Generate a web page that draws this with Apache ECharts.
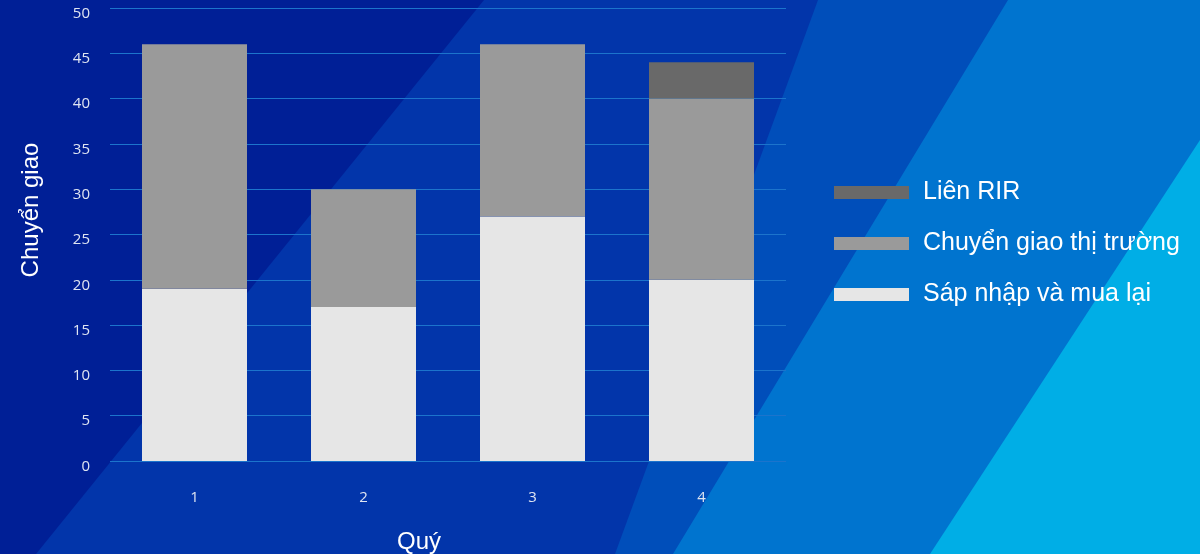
<!DOCTYPE html>
<html>
<head>
<meta charset="utf-8">
<script src="https://cdn.jsdelivr.net/npm/echarts@6/dist/echarts.min.js"></script>
<style>html,body{margin:0;padding:0;background:#0235aa;}#c{width:1200px;height:554px;}</style>
</head>
<body>
<div id="c"></div>
<script>
const categories = ['1', '2', '3', '4'];
const seriesNames = ['Sáp nhập và mua lại', 'Chuyển giao thị trường', 'Liên RIR'];
const mergersValues = [19, 17, 27, 20];
const marketValues = [27, 13, 19, 20];
const interRirValues = [0, 0, 0, 4];
const yTicks = { min: 0, max: 50, interval: 5 };
const xAxisTitle = 'Quý';
const yAxisTitle = 'Chuyển giao';

const chart = echarts.init(document.getElementById('c'), null, { renderer: 'canvas' });
const tickFont = { color: '#dfe5f2', fontSize: 15, fontFamily: 'Open Sans' };
const titleFont = { color: '#ffffff', fontSize: 24, fontFamily: 'Liberation Sans' };

function band(points, color) {
  return { type: 'polygon', silent: true, z: -10, shape: { points: points }, style: { fill: color } };
}

chart.setOption({
  backgroundColor: '#0235aa',
  animation: false,
  graphic: [
    band([[0, 0], [484, 0], [36, 554], [0, 554]], '#001f96'),
    band([[818, 0], [1200, 0], [1200, 554], [615, 554]], '#004eba'),
    band([[1008, 0], [1200, 0], [1200, 554], [673, 554]], '#0074cf'),
    band([[1200, 140], [1200, 554], [930, 554]], '#00aee6')
  ],
  grid: { left: 110, right: 414, top: 8, bottom: 93, outerBoundsMode: 'none', containLabel: false },
  legend: {
    orient: 'vertical',
    left: 829,
    top: 175,
    icon: 'rect',
    itemWidth: 75,
    itemHeight: 13,
    itemGap: 26,
    data: [seriesNames[2], seriesNames[1], seriesNames[0]],
    textStyle: Object.assign({}, titleFont, { fontSize: 25, padding: [0, 0, 0, 9] })
  },
  xAxis: {
    type: 'category',
    data: categories,
    name: xAxisTitle,
    nameLocation: 'middle',
    nameGap: 69,
    nameTextStyle: Object.assign({}, titleFont, { padding: [0, 58, 0, 0] }),
    axisLine: { show: false },
    axisTick: { show: false },
    axisLabel: Object.assign({ margin: 29 }, tickFont)
  },
  yAxis: {
    type: 'value',
    min: yTicks.min,
    max: yTicks.max,
    interval: yTicks.interval,
    name: yAxisTitle,
    nameLocation: 'middle',
    nameGap: 67,
    nameTextStyle: Object.assign({}, titleFont, { padding: [0, 0, 0, 49] }),
    axisLine: { show: false },
    axisTick: { show: false },
    axisLabel: Object.assign({ margin: 20, verticalAlign: 'top', lineHeight: 11 }, tickFont),
    splitLine: { lineStyle: { color: '#1c74cc', width: 1 } }
  },
  series: [
    { name: seriesNames[0], type: 'bar', stack: 's', data: mergersValues, barWidth: 105, itemStyle: { color: '#e6e6e6' } },
    { name: seriesNames[1], type: 'bar', stack: 's', data: marketValues, barWidth: 105, itemStyle: { color: '#9a9a9a' } },
    { name: seriesNames[2], type: 'bar', stack: 's', data: interRirValues, barWidth: 105, itemStyle: { color: '#696969' } }
  ]
});
</script>
</body>
</html>
